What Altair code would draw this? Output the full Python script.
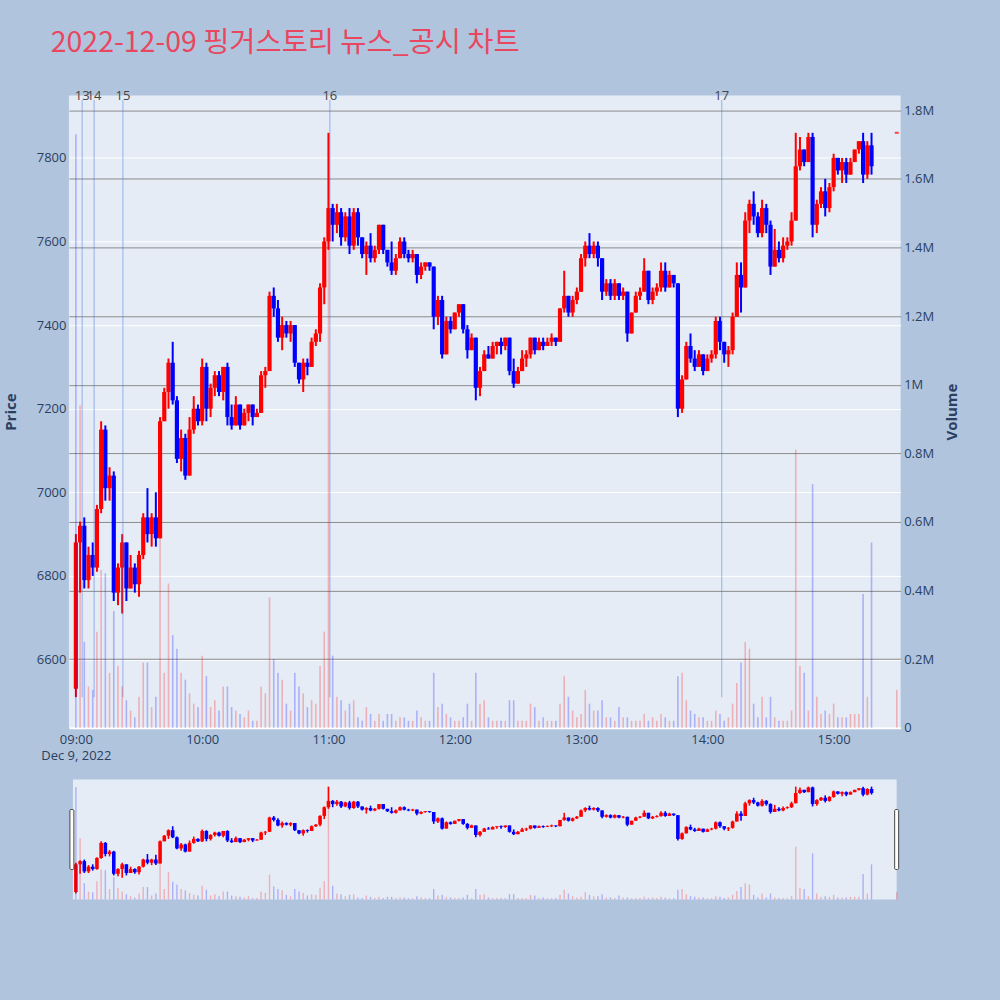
import altair as alt
import pandas as pd

# ---- minute-chart data, 2-minute bars from 09:00 to 15:18 ----
bar_close = [
    6880, 6920, 6790, 6850, 6820, 6960, 7150, 7010, 7040, 6760,
    6820, 6880, 6770, 6820, 6780, 6850, 6940, 6900, 6940, 6890,
    7170, 7240, 7310, 7220, 7080, 7130, 7040, 7150, 7200, 7170,
    7300, 7200, 7250, 7280, 7240, 7300, 7180, 7160, 7210, 7160,
    7190, 7210, 7180, 7190, 7280, 7290, 7470, 7440, 7370, 7400,
    7380, 7400, 7310, 7270, 7310, 7300, 7360, 7380, 7490, 7600,
    7680, 7640, 7670, 7610, 7660, 7590, 7670, 7610, 7570, 7590,
    7560, 7580, 7640, 7580, 7550, 7530, 7560, 7600, 7570, 7560,
    7570, 7520, 7540, 7550, 7540, 7420, 7460, 7330, 7410, 7390,
    7430, 7450, 7390, 7340, 7370, 7250, 7290, 7330, 7320, 7350,
    7360, 7350, 7370, 7290, 7260, 7290, 7320, 7330, 7370, 7340,
    7360, 7350, 7360, 7370, 7360, 7440, 7470, 7430, 7460, 7480,
    7560, 7590, 7570, 7590, 7560, 7480, 7500, 7470, 7500, 7470,
    7480, 7380, 7430, 7470, 7480, 7530, 7460, 7480, 7490, 7530,
    7490, 7520, 7500, 7200, 7270, 7350, 7320, 7300, 7330, 7290,
    7320, 7330, 7410, 7360, 7330, 7340, 7420, 7520, 7490, 7650,
    7690, 7660, 7620, 7680, 7640, 7540, 7580, 7560, 7590, 7600,
    7650, 7780, 7820, 7790, 7850, 7640, 7690, 7720, 7680, 7730,
    7800, 7770, 7790, 7760, 7790, 7820, 7840, 7760, 7830, 7780,
]
bar_high = [
    6900, 6930, 6940, 6870, 6880, 6970, 7170, 7160, 7060, 7050,
    6830, 6900, 6880, 6850, 6830, 6860, 6950, 7010, 6950, 7000,
    7180, 7250, 7320, 7360, 7230, 7150, 7140, 7180, 7230, 7210,
    7320, 7310, 7260, 7290, 7290, 7300, 7310, 7210, 7230, 7210,
    7200, 7210, 7210, 7200, 7290, 7300, 7480, 7490, 7460, 7420,
    7410, 7410, 7400, 7310, 7320, 7320, 7370, 7390, 7500, 7610,
    7860, 7690, 7690, 7680, 7670, 7680, 7680, 7680, 7610, 7600,
    7620, 7590, 7640, 7640, 7580, 7600, 7570, 7610, 7610, 7580,
    7580, 7570, 7550, 7550, 7550, 7540, 7470, 7470, 7420, 7420,
    7430, 7450, 7450, 7400, 7380, 7370, 7300, 7340, 7350, 7360,
    7360, 7370, 7370, 7370, 7320, 7300, 7340, 7340, 7370, 7370,
    7370, 7370, 7370, 7380, 7370, 7440, 7530, 7470, 7470, 7490,
    7570, 7600, 7620, 7600, 7600, 7560, 7510, 7510, 7510, 7500,
    7490, 7480, 7430, 7480, 7490, 7560, 7530, 7490, 7500, 7550,
    7550, 7530, 7520, 7500, 7280, 7360, 7380, 7340, 7340, 7330,
    7330, 7340, 7420, 7420, 7360, 7350, 7430, 7550, 7550, 7670,
    7700, 7720, 7670, 7700, 7690, 7650, 7630, 7600, 7610, 7610,
    7670, 7860, 7850, 7820, 7860, 7860, 7700, 7730, 7750, 7740,
    7810, 7800, 7800, 7800, 7800, 7820, 7840, 7860, 7840, 7860,
]
bar_low = [
    6510, 6760, 6770, 6770, 6800, 6810, 6950, 6980, 6980, 6740,
    6730, 6710, 6740, 6770, 6760, 6750, 6840, 6880, 6870, 6870,
    6890, 7170, 7200, 7210, 7070, 7050, 7030, 7040, 7140, 7160,
    7160, 7170, 7180, 7230, 7230, 7220, 7160, 7150, 7160, 7150,
    7160, 7170, 7160, 7180, 7190, 7250, 7290, 7420, 7360, 7340,
    7370, 7360, 7300, 7260, 7240, 7280, 7300, 7350, 7360, 7450,
    7580, 7600, 7620, 7590, 7600, 7570, 7580, 7590, 7560, 7520,
    7550, 7550, 7570, 7570, 7540, 7520, 7520, 7560, 7560, 7550,
    7550, 7500, 7510, 7530, 7530, 7390, 7400, 7320, 7330, 7380,
    7390, 7420, 7380, 7320, 7340, 7220, 7230, 7290, 7320, 7320,
    7330, 7330, 7340, 7280, 7250, 7260, 7290, 7300, 7320, 7330,
    7340, 7340, 7350, 7350, 7350, 7360, 7430, 7420, 7420, 7450,
    7480, 7540, 7560, 7560, 7540, 7460, 7470, 7460, 7460, 7460,
    7460, 7360, 7380, 7430, 7460, 7480, 7450, 7450, 7470, 7480,
    7480, 7490, 7490, 7180, 7190, 7270, 7310, 7290, 7300, 7280,
    7290, 7310, 7320, 7340, 7310, 7300, 7330, 7420, 7430, 7490,
    7620, 7640, 7610, 7610, 7620, 7520, 7540, 7550, 7550, 7580,
    7590, 7650, 7770, 7780, 7790, 7610, 7620, 7680, 7660, 7670,
    7720, 7760, 7740, 7740, 7760, 7790, 7810, 7740, 7750, 7760,
]
bar_volume_m = [
    1.73, 0.94, 0.25, 0.12, 0.11, 0.28, 0.46, 0.45, 0.16, 0.34,
    0.18, 0.12, 0.08, 0.05, 0.03, 0.09, 0.19, 0.19, 0.06, 0.09,
    0.62, 0.16, 0.42, 0.27, 0.23, 0.16, 0.14, 0.10, 0.07, 0.06,
    0.21, 0.15, 0.06, 0.08, 0.05, 0.12, 0.12, 0.06, 0.05, 0.04,
    0.03, 0.05, 0.02, 0.02, 0.12, 0.10, 0.38, 0.20, 0.16, 0.14,
    0.07, 0.05, 0.16, 0.12, 0.10, 0.06, 0.08, 0.07, 0.18, 0.28,
    1.73, 0.21, 0.09, 0.08, 0.05, 0.07, 0.08, 0.03, 0.02, 0.06,
    0.04, 0.02, 0.04, 0.02, 0.04, 0.04, 0.02, 0.03, 0.03, 0.02,
    0.02, 0.05, 0.03, 0.02, 0.02, 0.16, 0.06, 0.07, 0.04, 0.03,
    0.02, 0.02, 0.03, 0.07, 0.02, 0.16, 0.07, 0.08, 0.03, 0.02,
    0.02, 0.02, 0.02, 0.08, 0.08, 0.02, 0.02, 0.02, 0.07, 0.06,
    0.02, 0.03, 0.02, 0.02, 0.02, 0.07, 0.15, 0.09, 0.05, 0.03,
    0.04, 0.11, 0.07, 0.05, 0.05, 0.08, 0.03, 0.03, 0.02, 0.06,
    0.03, 0.03, 0.02, 0.02, 0.02, 0.04, 0.02, 0.03, 0.02, 0.04,
    0.03, 0.02, 0.02, 0.15, 0.16, 0.08, 0.05, 0.04, 0.03, 0.03,
    0.02, 0.02, 0.05, 0.04, 0.02, 0.03, 0.07, 0.13, 0.19, 0.25,
    0.23, 0.07, 0.03, 0.09, 0.03, 0.09, 0.03, 0.02, 0.02, 0.02,
    0.05, 0.81, 0.18, 0.16, 0.05, 0.71, 0.09, 0.04, 0.05, 0.04,
    0.07, 0.03, 0.03, 0.03, 0.04, 0.04, 0.04, 0.39, 0.09, 0.54,
]

session_date = "2022-12-09"
first_open = 6530
prior_close = 6900
auction_time = "15:30:00"
auction_price = 7860
auction_volume_m = 0.11

news_ids = ["13", "14", "15", "16", "17"]
news_times = ["09:03:00", "09:08:40", "09:22:20", "11:00:40", "14:06:50"]

price_ticks = [6600, 6800, 7000, 7200, 7400, 7600, 7800]
volume_ticks = [0, 200000, 400000, 600000, 800000, 1000000,
                1200000, 1400000, 1600000, 1800000]
hour_ticks = [9, 10, 11, 12, 13, 14, 15]

title_text = "2022-12-09 핑거스토리 뉴스_공시 차트"

# ---- tables ----
times = pd.date_range(f"{session_date} 09:00", periods=len(bar_close), freq="2min")
opens = [first_open] + bar_close[:-1]
prev_closes = [prior_close] + bar_close[:-1]
rows = []
for t, o, h, l, c, v, p in zip(times, opens, bar_high, bar_low, bar_close,
                                bar_volume_m, prev_closes):
    rows.append(dict(t=t.strftime("%Y-%m-%dT%H:%M:%S"), o=o, h=h, l=l, c=c,
                     v=v * 1e6, dir="up" if c >= o else "down",
                     vdir="up" if c >= p else "down"))
auction_row = dict(t=f"{session_date}T{auction_time}", o=auction_price,
                   h=auction_price, l=auction_price, c=auction_price,
                   v=auction_volume_m * 1e6,
                   dir="up", vdir="up" if auction_price >= bar_close[-1] else "down")
rows.append(auction_row)
bars = pd.DataFrame(rows)
auction = pd.DataFrame([auction_row])

news = pd.DataFrame({
    "t": [f"{session_date}T{s}" for s in news_times],
    "id": news_ids,
})
news["lo"] = min(bar_low)
news["hi"] = max(bar_high) * 1.01

# ---- styling ----
FONT = "Open Sans"
INK = "#2a3f5f"
PLOT_BG = "#E5ECF6"
PAGE_BG = "#B0C4DE"
UP, DOWN = "#ff0000", "#0000ff"
W, H = 833, 633
SH = 120


def dt(h, m=0, s=0):
    return alt.DateTime(year=2022, month=12, date=9, hours=h, minutes=m, seconds=s)


x_scale = alt.Scale(domain=[dt(8, 56, 41), dt(15, 31, 50)], padding=0)
price_scale = alt.Scale(domain=[6437, 7949], nice=False, zero=False, padding=0)
vol_scale = alt.Scale(domain=[0, 1843000], nice=False, zero=True, padding=0)
dir_colors = alt.Scale(domain=["up", "down"], range=[UP, DOWN])

x_axis = alt.Axis(
    values=[dt(h) for h in hour_ticks],
    labelExpr="hours(datum.value) === 9 ? ['09:00', 'Dec 9, 2022'] : timeFormat(datum.value, '%H:%M')",
    grid=False, domain=False, ticks=False, labelPadding=6, labelFontSize=13,
    labelColor=INK, labelFont=FONT, labelLineHeight=16, labelBaseline="top",
)
price_axis = alt.Axis(
    values=price_ticks, format="d", grid=True, gridColor="white", gridWidth=1,
    domain=False, ticks=False, labelPadding=3, labelFontSize=13,
    labelColor=INK, labelFont=FONT, titleFontSize=15, titleFontWeight="bold",
    titleColor=INK, titleFont=FONT, titlePadding=17.4,
)
vol_axis = alt.Axis(
    orient="right", values=volume_ticks,
    labelExpr="datum.value === 0 ? '0' : format(datum.value / 1e6, '~g') + 'M'",
    grid=True,
    gridColor={"condition": {"test": "datum.value === 0", "value": "white"}, "value": "#8c8c8c"},
    gridWidth={"condition": {"test": "datum.value === 0", "value": 2}, "value": 1},
    domain=False, ticks=False, labelPadding=3, labelFontSize=13,
    labelColor=INK, labelFont=FONT, titleFontSize=15, titleFontWeight="bold",
    titleColor=INK, titleFont=FONT, titlePadding=10.5, titleAngle=270,
    titleBaseline="top",
)

color_dir = alt.Color("dir:N", scale=dir_colors, legend=None)
color_vdir = alt.Color("vdir:N", scale=dir_colors, legend=None)
x_main = alt.X("t:T", scale=x_scale, axis=x_axis, title=None)
x_plain = alt.X("t:T", scale=x_scale, axis=None)

# ---- main panel: candles, news markers, volume ----
candle_base = alt.Chart(bars).encode(x=x_main)
wick = candle_base.mark_rule(strokeWidth=2).encode(
    y=alt.Y("l:Q", scale=price_scale, axis=price_axis, title="Price"),
    y2="h:Q", color=color_dir)
body = candle_base.mark_bar(width=4.2).encode(
    y=alt.Y("o:Q", scale=price_scale, title="Price"), y2="c:Q", color=color_dir)
auction_tick = alt.Chart(auction).mark_tick(thickness=2, size=4).encode(
    x=x_main, y=alt.Y("c:Q", scale=price_scale, title="Price"), color=color_dir)
news_rule = alt.Chart(news).mark_rule(color="#4169e1", opacity=0.4, strokeWidth=1.2).encode(
    x=x_main, y=alt.Y("hi:Q", scale=price_scale, title="Price"), y2="lo:Q")
news_text = alt.Chart(news).mark_text(
    font=FONT, fontSize=13, color="#444444", baseline="middle").encode(
    x=x_main, y=alt.value(0.5), text="id:N")

volume = candle_base.mark_bar(width=1.6, opacity=0.25).encode(
    y=alt.Y("v:Q", scale=vol_scale, axis=vol_axis, title="Volume"),
    color=color_vdir)

main = alt.layer(
    alt.layer(wick, body, auction_tick, news_rule, news_text),
    volume,
).resolve_scale(y="independent").properties(
    width=W, height=H, view=alt.ViewBackground(fill=PLOT_BG, strokeWidth=0))

# ---- range slider panel ----
one = pd.DataFrame({"k": [0]})
slider_bg = alt.Chart(one).mark_rect(color=PLOT_BG).encode(
    x=alt.value(4), x2=alt.value(829), y=alt.value(0), y2=alt.value(SH))
s_base = alt.Chart(bars).encode(x=x_plain)
s_wick = s_base.mark_rule(strokeWidth=1.6).encode(
    y=alt.Y("l:Q", scale=price_scale, axis=None), y2="h:Q", color=color_dir)
s_body = s_base.mark_bar(width=3.6).encode(
    y=alt.Y("o:Q", scale=price_scale, axis=None), y2="c:Q", color=color_dir)
s_vol = s_base.mark_bar(width=1.4, opacity=0.25).encode(
    y=alt.Y("v:Q", scale=vol_scale, axis=None), color=color_vdir)
handle_l = alt.Chart(one).mark_rect(fill="white", stroke="#444444", strokeWidth=1,
                                    cornerRadius=1).encode(
    x=alt.value(1), x2=alt.value(5), y=alt.value(30), y2=alt.value(90))
handle_r = alt.Chart(one).mark_rect(fill="white", stroke="#444444", strokeWidth=1,
                                    cornerRadius=1).encode(
    x=alt.value(827), x2=alt.value(831), y=alt.value(30), y2=alt.value(90))

slider = alt.layer(
    slider_bg,
    alt.layer(s_wick, s_body),
    s_vol,
    handle_l, handle_r,
).resolve_scale(y="independent").properties(width=W, height=SH)

chart = alt.vconcat(main, slider, spacing=17).properties(
    background=PAGE_BG,
    padding={"left": 3, "top": 28, "right": 40.5, "bottom": 100},
    title=alt.TitleParams(
        text=title_text, anchor="start", fontSize=28.5, font="Noto Sans CJK KR",
        fontWeight="normal", color="#E8475F", dx=47, offset=33),
).configure_view(strokeWidth=0)

chart.save("out.html", embed_options={"renderer": "svg", "actions": False})
